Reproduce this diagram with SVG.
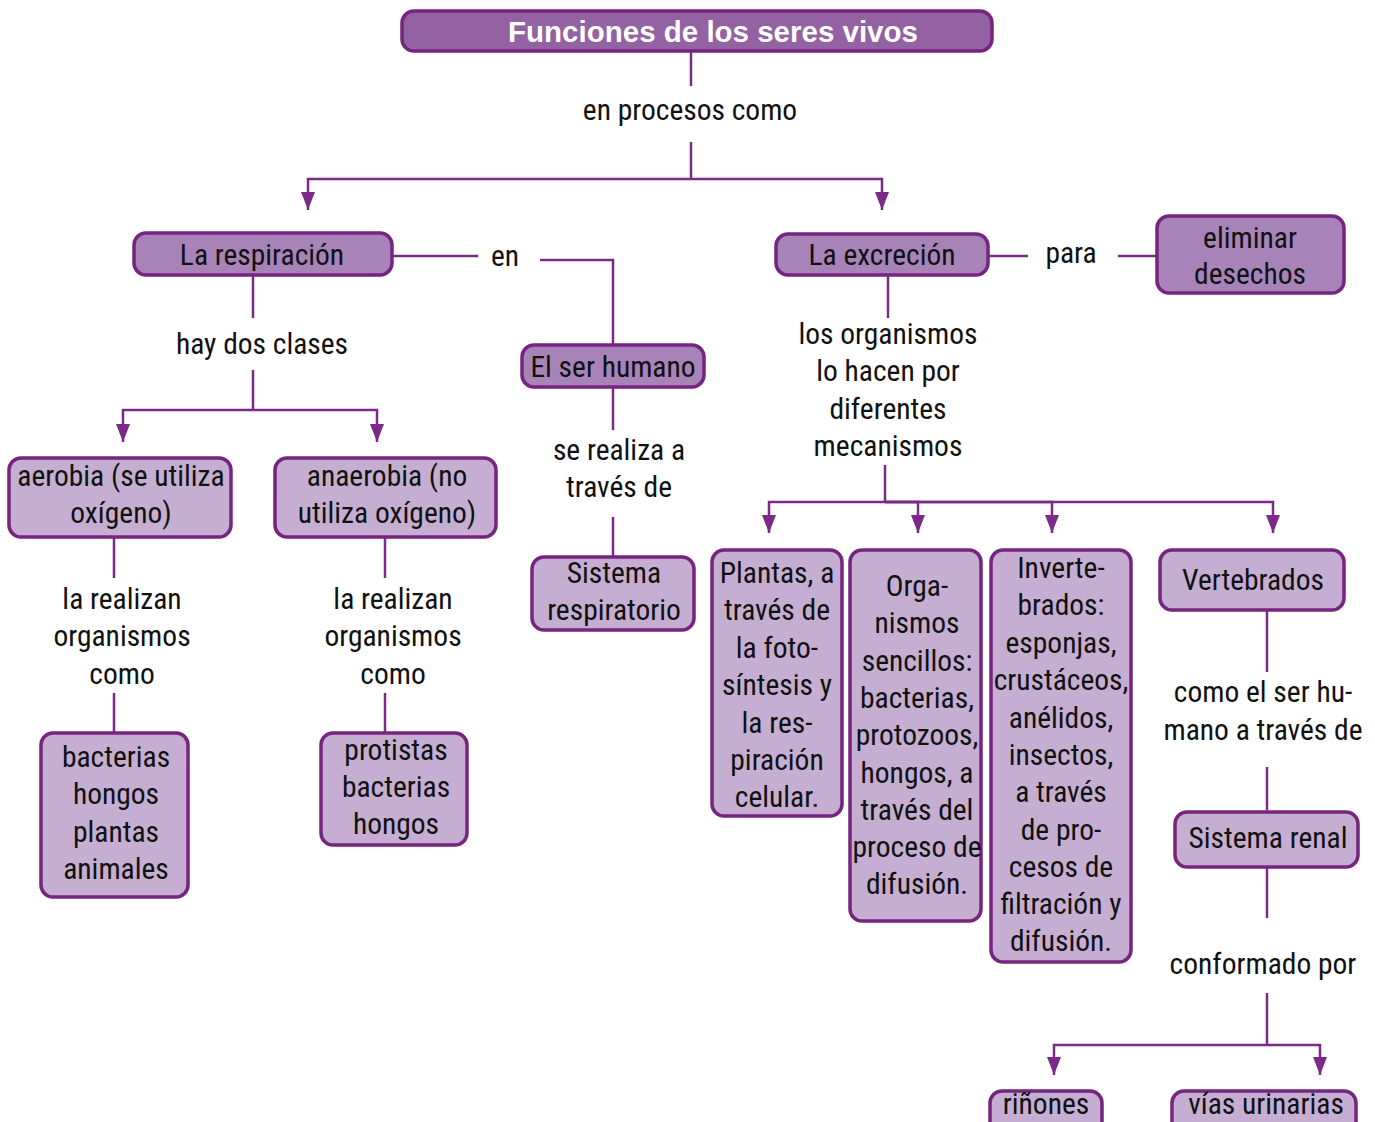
<svg xmlns="http://www.w3.org/2000/svg" width="1375" height="1122" viewBox="0 0 1375 1122">
  <style>
    .t { font-family: "Roboto Condensed", "Liberation Sans Narrow", "DejaVu Sans Condensed", "Liberation Sans", sans-serif; font-size: 29.5px; fill: #111; text-anchor: middle; }
    .title { font-family: "Liberation Sans", Arial, sans-serif; font-weight: bold; font-size: 29.5px; fill: #fff; text-anchor: middle; }
    .n0 { fill: #9262a2; stroke: #76257f; stroke-width: 3.5; }
    .n1 { fill: #a883b8; stroke: #76257f; stroke-width: 3.5; }
    .n2 { fill: #c5aed2; stroke: #76257f; stroke-width: 3.5; }
    .c { fill: none; stroke: #7b2a88; stroke-width: 2.5; }
    .a { fill: none; stroke: #7b2a88; stroke-width: 2.5; marker-end: url(#arr); }
  </style>
  <defs>
    <marker id="arr" markerUnits="userSpaceOnUse" viewBox="0 0 18 14" refX="18" refY="7" markerWidth="18" markerHeight="14" orient="auto">
      <path d="M0,0 L18,7 L0,14 Z" fill="#7b2a88"/>
    </marker>
  </defs>

  <g id="connectors">
    <!-- title to first level -->
    <path class="c" d="M691,51 V86"/>
    <path class="c" d="M691,142 V180"/>
    <path class="a" d="M691,179 H308 V210"/>
    <path class="a" d="M691,179 H882 V210"/>
    <!-- respiración -> ser humano -->
    <path class="c" d="M392,256 H478"/>
    <path class="c" d="M540,260 H613 V345"/>
    <path class="c" d="M613,387 V430"/>
    <path class="c" d="M613,517 V557"/>
    <!-- respiración -> clases -->
    <path class="c" d="M253,275 V318"/>
    <path class="c" d="M253,370 V410"/>
    <path class="a" d="M253,410 H123 V442"/>
    <path class="a" d="M253,410 H377 V442"/>
    <path class="c" d="M114,537 V578"/>
    <path class="c" d="M114,693 V733"/>
    <path class="c" d="M385,537 V578"/>
    <path class="c" d="M385,693 V733"/>
    <!-- excreción -->
    <path class="c" d="M988,256 H1028"/>
    <path class="c" d="M1118,256 H1157"/>
    <path class="c" d="M888,275 V318"/>
    <path class="c" d="M885,465 V502"/>
    <path class="a" d="M885,502 H769 V533"/>
    <path class="a" d="M885,502 H918 V533"/>
    <path class="a" d="M885,502 H1052 V533"/>
    <path class="a" d="M885,502 H1273 V533"/>
    <!-- vertebrados -->
    <path class="c" d="M1267,610 V672"/>
    <path class="c" d="M1267,767 V810"/>
    <path class="c" d="M1267,867 V918"/>
    <path class="c" d="M1267,993 V1045"/>
    <path class="a" d="M1267,1045 H1054 V1075"/>
    <path class="a" d="M1267,1045 H1320 V1075"/>
  </g>

  <g id="labels">
    <text class="t" x="690" y="120">en procesos como</text>
    <text class="t" x="505" y="266">en</text>
    <text class="t" x="262" y="354">hay dos clases</text>
    <text class="t" x="619" y="460">se realiza a</text>
    <text class="t" x="619" y="497">través de</text>
    <text class="t" x="1071" y="263">para</text>
    <text class="t" x="888" y="344">los organismos</text>
    <text class="t" x="888" y="381">lo hacen por</text>
    <text class="t" x="888" y="419">diferentes</text>
    <text class="t" x="888" y="456">mecanismos</text>
    <text class="t" x="122" y="609">la realizan</text>
    <text class="t" x="122" y="646">organismos</text>
    <text class="t" x="122" y="684">como</text>
    <text class="t" x="393" y="609">la realizan</text>
    <text class="t" x="393" y="646">organismos</text>
    <text class="t" x="393" y="684">como</text>
    <text class="t" x="1263" y="702">como el ser hu-</text>
    <text class="t" x="1263" y="740">mano a través de</text>
    <text class="t" x="1263" y="974">conformado por</text>
  </g>

  <g id="n-funciones">
    <rect class="n0" x="402" y="11" width="590" height="40" rx="12"/>
    <text class="title" x="713" y="42">Funciones de los seres vivos</text>
  </g>
  <g id="n-respiracion">
    <rect class="n1" x="134" y="233" width="258" height="42" rx="12"/>
    <text class="t" x="262" y="265">La respiración</text>
  </g>
  <g id="n-ser-humano">
    <rect class="n1" x="522" y="345" width="182" height="42" rx="12"/>
    <text class="t" x="613" y="377">El ser humano</text>
  </g>
  <g id="n-sistema-respiratorio">
    <rect class="n2" x="532" y="557" width="162" height="73" rx="12"/>
    <text class="t" x="614" y="583">Sistema</text>
    <text class="t" x="614" y="620">respiratorio</text>
  </g>
  <g id="n-excrecion">
    <rect class="n1" x="776" y="234" width="212" height="41" rx="12"/>
    <text class="t" x="882" y="265">La excreción</text>
  </g>
  <g id="n-eliminar">
    <rect class="n1" x="1157" y="216" width="187" height="77" rx="12"/>
    <text class="t" x="1250" y="248">eliminar</text>
    <text class="t" x="1250" y="284">desechos</text>
  </g>
  <g id="n-aerobia">
    <rect class="n2" x="9" y="458" width="222" height="79" rx="12"/>
    <text class="t" x="121" y="486">aerobia (se utiliza</text>
    <text class="t" x="121" y="523">oxígeno)</text>
  </g>
  <g id="n-anaerobia">
    <rect class="n2" x="275" y="458" width="221" height="79" rx="12"/>
    <text class="t" x="387" y="486">anaerobia (no</text>
    <text class="t" x="387" y="523">utiliza oxígeno)</text>
  </g>
  <g id="n-bacterias">
    <rect class="n2" x="41" y="733" width="147" height="164" rx="12"/>
    <text class="t" x="116" y="767">bacterias</text>
    <text class="t" x="116" y="804">hongos</text>
    <text class="t" x="116" y="842">plantas</text>
    <text class="t" x="116" y="879">animales</text>
  </g>
  <g id="n-protistas">
    <rect class="n2" x="321" y="733" width="146" height="112" rx="12"/>
    <text class="t" x="396" y="760">protistas</text>
    <text class="t" x="396" y="797">bacterias</text>
    <text class="t" x="396" y="834">hongos</text>
  </g>
  <g id="n-plantas">
    <rect class="n2" x="712" y="550" width="130" height="266" rx="12"/>
    <text class="t" x="777" y="583">Plantas, a</text>
    <text class="t" x="777" y="620">través de</text>
    <text class="t" x="777" y="658">la foto-</text>
    <text class="t" x="777" y="695">síntesis y</text>
    <text class="t" x="777" y="733">la res-</text>
    <text class="t" x="777" y="770">piración</text>
    <text class="t" x="777" y="807">celular.</text>
  </g>
  <g id="n-organismos">
    <rect class="n2" x="850" y="550" width="131" height="371" rx="12"/>
    <text class="t" x="917" y="596">Orga-</text>
    <text class="t" x="917" y="633">nismos</text>
    <text class="t" x="917" y="671">sencillos:</text>
    <text class="t" x="917" y="708">bacterias,</text>
    <text class="t" x="917" y="745">protozoos,</text>
    <text class="t" x="917" y="783">hongos, a</text>
    <text class="t" x="917" y="820">través del</text>
    <text class="t" x="917" y="857">proceso de</text>
    <text class="t" x="917" y="894">difusión.</text>
  </g>
  <g id="n-invertebrados">
    <rect class="n2" x="991" y="550" width="140" height="412" rx="12"/>
    <text class="t" x="1061" y="578">Inverte-</text>
    <text class="t" x="1061" y="615">brados:</text>
    <text class="t" x="1061" y="653">esponjas,</text>
    <text class="t" x="1061" y="690">crustáceos,</text>
    <text class="t" x="1061" y="728">anélidos,</text>
    <text class="t" x="1061" y="765">insectos,</text>
    <text class="t" x="1061" y="802">a través</text>
    <text class="t" x="1061" y="840">de pro-</text>
    <text class="t" x="1061" y="877">cesos de</text>
    <text class="t" x="1061" y="914">filtración y</text>
    <text class="t" x="1061" y="951">difusión.</text>
  </g>
  <g id="n-vertebrados">
    <rect class="n2" x="1160" y="550" width="184" height="60" rx="12"/>
    <text class="t" x="1253" y="590">Vertebrados</text>
  </g>
  <g id="n-sistema-renal">
    <rect class="n2" x="1175" y="812" width="183" height="55" rx="12"/>
    <text class="t" x="1268" y="848">Sistema renal</text>
  </g>
  <g id="n-rinones">
    <rect class="n2" x="990" y="1091" width="112" height="44" rx="12"/>
    <text class="t" x="1046" y="1114">riñones</text>
  </g>
  <g id="n-vias">
    <rect class="n2" x="1172" y="1091" width="184" height="44" rx="12"/>
    <text class="t" x="1266" y="1114">vías urinarias</text>
  </g>
</svg>
